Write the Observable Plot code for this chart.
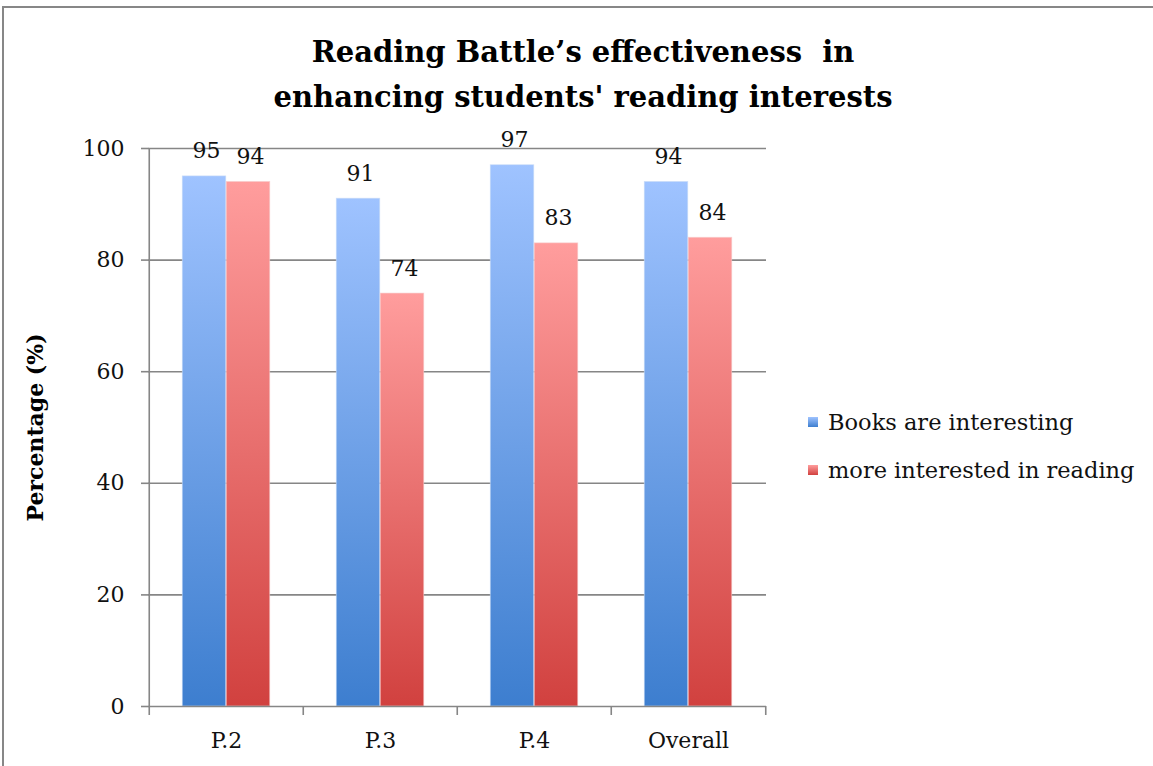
<!DOCTYPE html>
<html>
<head>
<meta charset="utf-8">
<script src="https://cdn.jsdelivr.net/npm/d3@7"></script>
<script src="https://cdn.jsdelivr.net/npm/@observablehq/plot@0.6"></script>
<style>
  html, body { margin: 0; padding: 0; background: #fff; }
  body { width: 1153px; height: 766px; position: relative; overflow: hidden; font-family: "DejaVu Serif", "Liberation Serif", serif; }
  #frame { position: absolute; left: 2px; top: 6px; width: 1160px; height: 800px; border: 2px solid #878787; box-sizing: border-box; }
  #title { position: absolute; left: 0; top: 30px; width: 1166px; text-align: center; font-family: "DejaVu Serif", serif; font-weight: bold; font-size: 29px; line-height: 45px; color: #000; }
  #chart { position: absolute; left: 0; top: 120px; }
  #legend { position: absolute; left: 808px; top: 398px; font-family: "DejaVu Serif", serif; font-size: 22.5px; color: #111; }
  .item { display: flex; align-items: center; height: 48px; }
  .sw { width: 10px; height: 10px; margin-right: 10px; }
</style>
</head>
<body>
<div id="frame"></div>
<div id="title">Reading Battle’s effectiveness&nbsp; in<br>enhancing students' reading interests</div>
<div id="chart"></div>
<div id="legend"></div>
<script>
const categories = ["P.2", "P.3", "P.4", "Overall"];
const seriesNames = ["Books are interesting", "more interested in reading"];
const booksInteresting = [95, 91, 97, 94];
const moreInterested = [94, 74, 83, 84];
const yTicks = [0, 20, 40, 60, 80, 100];

const gradients = [
  {id: "gBlue", top: "#9fc3ff", bottom: "#3d7ecf"},
  {id: "gRed", top: "#ff9d9d", bottom: "#d1413f"}
];

const data = [];
categories.forEach((c, i) => {
  data.push({cat: c, series: seriesNames[0], value: booksInteresting[i]});
  data.push({cat: c, series: seriesNames[1], value: moreInterested[i]});
});

const W = 1153, H = 646;
const mL = 148, mR = 1153 - 766, mT = 28, mB = 60;
const bw = (W - mL - mR) / categories.length;
const barW = 44;
const outer = (bw - 2 * barW) / 2;

const gridColor = "#868686";
const fnt = "DejaVu Serif, Liberation Serif, serif";
const fs = 22;

const chart = Plot.plot({
  width: W, height: H,
  marginLeft: mL, marginRight: mR, marginTop: mT, marginBottom: mB,
  style: {fontFamily: fnt, fontSize: fs + "px", color: "#111", background: "transparent", overflow: "visible"},
  x: {domain: categories, padding: 0, label: null, axis: null},
  y: {domain: [0, 100], label: null, axis: null},
  marks: [
    Plot.ruleY(yTicks.filter(d => d > 0), {y: d => d, stroke: gridColor, strokeWidth: 1.6}),
    Plot.barY(data.filter(d => d.series === seriesNames[0]), {
      x: "cat", y: "value", fill: "url(#gBlue)",
      insetLeft: outer, insetRight: bw - outer - barW,
      stroke: "#c9dcf7", strokeWidth: 0.8, strokeOpacity: 0.7
    }),
    Plot.barY(data.filter(d => d.series === seriesNames[1]), {
      x: "cat", y: "value", fill: "url(#gRed)",
      insetLeft: outer + barW, insetRight: outer,
      stroke: "#f7caca", strokeWidth: 0.8, strokeOpacity: 0.7
    }),
    Plot.text(data.filter(d => d.series === seriesNames[0]), {
      x: "cat", y: "value", text: d => String(d.value), dx: outer + barW / 2 - bw / 2 + 2, dy: -25,
      fontSize: fs, fill: "#111"
    }),
    Plot.text(data.filter(d => d.series === seriesNames[1]), {
      x: "cat", y: "value", text: d => String(d.value), dx: outer + 1.5 * barW - bw / 2 + 2, dy: -25,
      fontSize: fs, fill: "#111"
    }),
    // y axis line
    Plot.ruleX([0], {x: () => categories[0], dx: -bw / 2, y1: 0, y2: 100, stroke: gridColor, strokeWidth: 1.6}),
    // x axis line
    Plot.ruleY([0], {stroke: gridColor, strokeWidth: 1.6}),
    // y tick marks
    Plot.ruleY(yTicks, {y: d => d, x1: () => categories[0], x2: () => categories[0], insetLeft: -8, insetRight: bw, stroke: gridColor, strokeWidth: 1.6}),
    Plot.axisY({ticks: yTicks, tickSize: 0, tickPadding: 24, fontSize: fs, label: null}),
    // x boundary ticks
    Plot.ruleX(categories, {x: d => d, dx: -bw / 2, y1: 0, y2: 0, insetBottom: -9, stroke: gridColor, strokeWidth: 1.6}),
    Plot.ruleX([categories[categories.length - 1]], {x: d => d, dx: bw / 2, y1: 0, y2: 0, insetBottom: -9, stroke: gridColor, strokeWidth: 1.6}),
    Plot.axisX({tickSize: 0, tickPadding: 26, fontSize: fs, label: null}),
    Plot.text(["Percentage (%)"], {frameAnchor: "left", dx: -113, rotate: -90, textAnchor: "middle", fontWeight: "bold", fontSize: 22, fill: "#000"})
  ]
});

// gradient defs
const ns = "http://www.w3.org/2000/svg";
const defs = document.createElementNS(ns, "defs");
gradients.forEach(g => {
  const lg = document.createElementNS(ns, "linearGradient");
  lg.setAttribute("id", g.id);
  lg.setAttribute("x1", "0"); lg.setAttribute("y1", "0");
  lg.setAttribute("x2", "0"); lg.setAttribute("y2", "1");
  [["0", g.top], ["1", g.bottom]].forEach(([o, c]) => {
    const s = document.createElementNS(ns, "stop");
    s.setAttribute("offset", o); s.setAttribute("stop-color", c);
    lg.appendChild(s);
  });
  defs.appendChild(lg);
});
chart.insertBefore(defs, chart.firstChild);
document.getElementById("chart").appendChild(chart);

// legend
const leg = document.getElementById("legend");
seriesNames.forEach((name, i) => {
  const g = gradients[i];
  const it = document.createElement("div");
  it.className = "item";
  const sw = document.createElement("span");
  sw.className = "sw";
  sw.style.background = `linear-gradient(${g.top}, ${g.bottom})`;
  const t = document.createElement("span");
  t.textContent = name;
  it.appendChild(sw); it.appendChild(t);
  leg.appendChild(it);
});
</script>
</body>
</html>
